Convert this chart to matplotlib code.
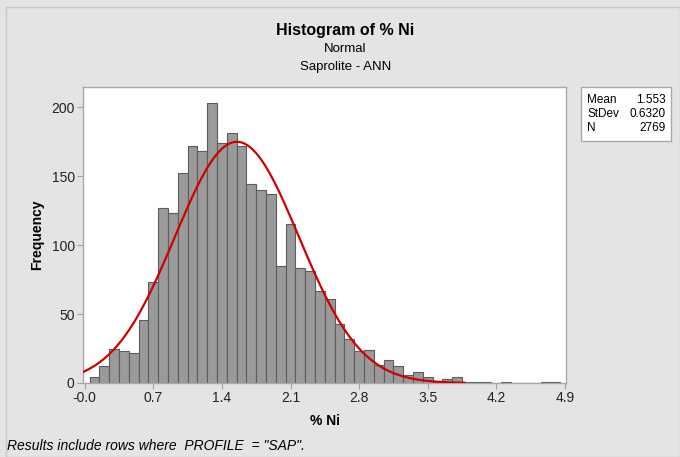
import numpy as np
import matplotlib
matplotlib.use('Agg')
from matplotlib import pyplot as plt
from matplotlib.patches import Rectangle

plt.rcParams['font.family'] = ['Liberation Sans', 'DejaVu Sans']

# histogram of % Ni, bins of width 0.1 centred on 0.1, 0.2, ...
bin_centers = np.round(np.arange(0.1, 4.85, 0.1), 2)
counts = [4, 12, 25, 23, 22, 46, 73, 127, 123, 152,
          172, 168, 203, 174, 181, 172, 144, 140, 137, 85,
          115, 83, 81, 67, 61, 43, 32, 23, 24, 13,
          17, 12, 6, 8, 4, 1, 3, 4, 1, 1,
          1, 0, 1, 0, 0, 0, 1, 1]

mean = 1.553
stdev = 0.6320
n = 2769
bin_width = 0.1

xticks = [0.0, 0.7, 1.4, 2.1, 2.8, 3.5, 4.2, 4.9]
xticklabels = ['-0.0', '0.7', '1.4', '2.1', '2.8', '3.5', '4.2', '4.9']
yticks = [0, 50, 100, 150, 200]

bg = '#e4e4e4'
fig = plt.figure(figsize=(6.8, 4.57), dpi=100, facecolor=bg)
fig.patches.append(Rectangle((6 / 680, 0), 1 - 6 / 680, 1 - 7 / 457,
                             transform=fig.transFigure, facecolor='none',
                             edgecolor='#c8c8c8', linewidth=1))

ax = fig.add_axes([83 / 680, 74 / 457, 483 / 680, 296 / 457])
ax.bar(bin_centers, counts, width=bin_width, color='#9a9a9a',
       edgecolor='#5c5c5c', linewidth=0.8, zorder=2)

xmin, xmax = -0.017, 4.91
xs = np.linspace(xmin, xmax, 500)
pdf = np.exp(-0.5 * ((xs - mean) / stdev) ** 2) / (stdev * np.sqrt(2 * np.pi))
fit = pdf * n * bin_width
# the fitted line fades into the axis once it is essentially zero
keep = fit > 0.2
ax.plot(xs[keep], fit[keep], color='#d00000', linewidth=1.6, zorder=3)

ax.set_xlim(xmin, xmax)
ax.set_ylim(0, 214.5)
ax.set_xticks(xticks)
ax.set_xticklabels(xticklabels)
ax.set_yticks(yticks)
ax.tick_params(length=4, color='#a0a0a0', labelsize=10, labelcolor='#222222', pad=2)
for s in ax.spines.values():
    s.set_color('#a8a8a8')
    s.set_linewidth(1)

ax.set_xlabel('% Ni', fontsize=10, fontweight='bold', labelpad=6)
ax.set_ylabel('Frequency', fontsize=10, fontweight='bold', labelpad=5.5)

fig.text(0.508, 1 - 30 / 457, 'Histogram of % Ni', ha='center', va='center',
         fontsize=11.5, fontweight='bold')
fig.text(0.508, 1 - 49 / 457, 'Normal', ha='center', va='center', fontsize=9.5)
fig.text(0.508, 1 - 67 / 457, 'Saprolite - ANN', ha='center', va='center', fontsize=9.5)

# stats box
fig.patches.append(Rectangle((581 / 680, 1 - 141 / 457), 90 / 680, 54 / 457,
                             transform=fig.transFigure, facecolor='white',
                             edgecolor='#a8a8a8', linewidth=1))
rows = [('Mean', '1.553'), ('StDev', '0.6320'), ('N', '2769')]
for i, (k, v) in enumerate(rows):
    y = 1 - (100 + 14 * i) / 457
    fig.text(587 / 680, y, k, ha='left', va='center', fontsize=8.5)
    fig.text(666 / 680, y, v, ha='right', va='center', fontsize=8.5)

fig.text(7 / 680, 1 - 446 / 457, 'Results include rows where  PROFILE  = "SAP".',
         ha='left', va='center', fontsize=10, style='italic')

plt.savefig('out.png', dpi=100, facecolor=bg)
